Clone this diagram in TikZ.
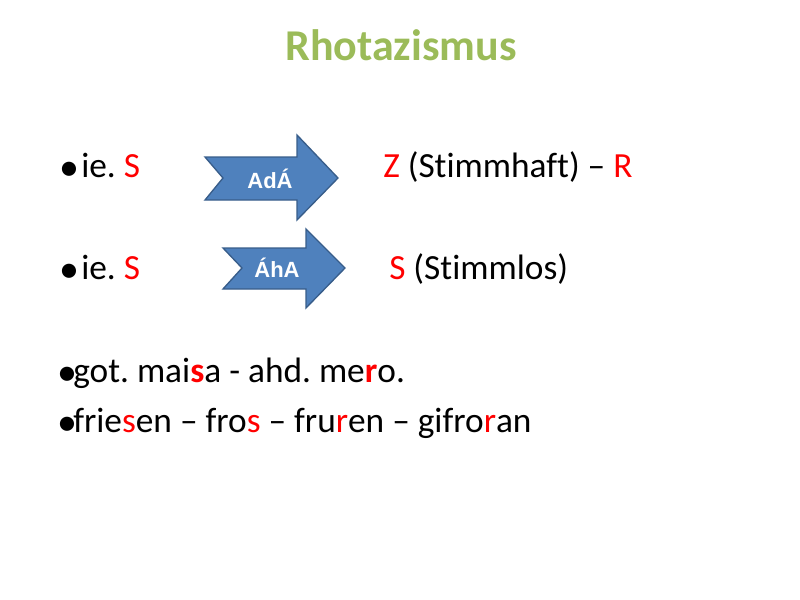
\documentclass[tikz,border=0pt]{standalone}
\usepackage{fontspec}
\setmainfont[Ligatures=NoCommon]{Carlito}
\newfontfamily\arial{Liberation Sans}
\definecolor{tgreen}{HTML}{9BBB59}
\definecolor{ablue}{HTML}{4F81BD}
\definecolor{aedge}{HTML}{385D8A}
\definecolor{sred}{HTML}{FF0000}
\frenchspacing
\begin{document}
\begin{tikzpicture}[x=0.75pt,y=-0.75pt,
  txt/.style={anchor=base west,inner sep=0pt,font=\fontsize{26.5}{30}\selectfont},
  bul/.style={anchor=base west,inner sep=0pt,font=\fontsize{30}{30}\selectfont},
  arr/.style={fill=ablue,draw=aedge,line width=1pt},
  alab/.style={text=white,font=\arial\bfseries\fontsize{16.5}{18}\selectfont}]
\useasboundingbox (0,0) rectangle (800,600);
\node[anchor=base,inner sep=0pt,text=tgreen,font=\bfseries\fontsize{33}{38}\selectfont] (title) at (401,60) {Rhotazismus};
% line 1
\node[bul] (b1) at (59,180) {\textbullet};
\node[txt] (t1) at (81,177) {ie. \textcolor{sred}{S}};
\node[txt] (t1b) at (383,177) {\textcolor{sred}{Z} (Stimmhaft) – \textcolor{sred}{R}};
\draw[arr] (205,157) -- (297,157) -- (297,135) -- (338,178) -- (297,220) -- (297,200) -- (205,200) -- (223,178) -- cycle;
\node[alab] (a1) at (270,179) {AdÁ};
% line 2
\node[bul] (b2) at (59,282) {\textbullet};
\node[txt] (t2) at (81,279) {ie. \textcolor{sred}{S}};
\node[txt] (t2b) at (389,279) {\textcolor{sred}{S} (Stimmlos)};
\draw[arr] (223,248) -- (306,248) -- (306,229) -- (345,268) -- (306,308) -- (306,289) -- (223,289) -- (242,268) -- cycle;
\node[alab] (a2) at (277,268) {ÁhA};
% line 3,4
\node[bul] (b3) at (57,385) {\textbullet};
\node[txt] (t3) at (73,382) {got. mai\textcolor{sred}{\bfseries s}a - ahd. me\textcolor{sred}{\bfseries r}o.};
\node[bul] (b4) at (57,435) {\textbullet};
\node[txt] (t4) at (73,432) {frie\textcolor{sred}{s}en – fro\textcolor{sred}{s} – fru\textcolor{sred}{r}en – gifro\textcolor{sred}{r}an};
\end{tikzpicture}
\end{document}
